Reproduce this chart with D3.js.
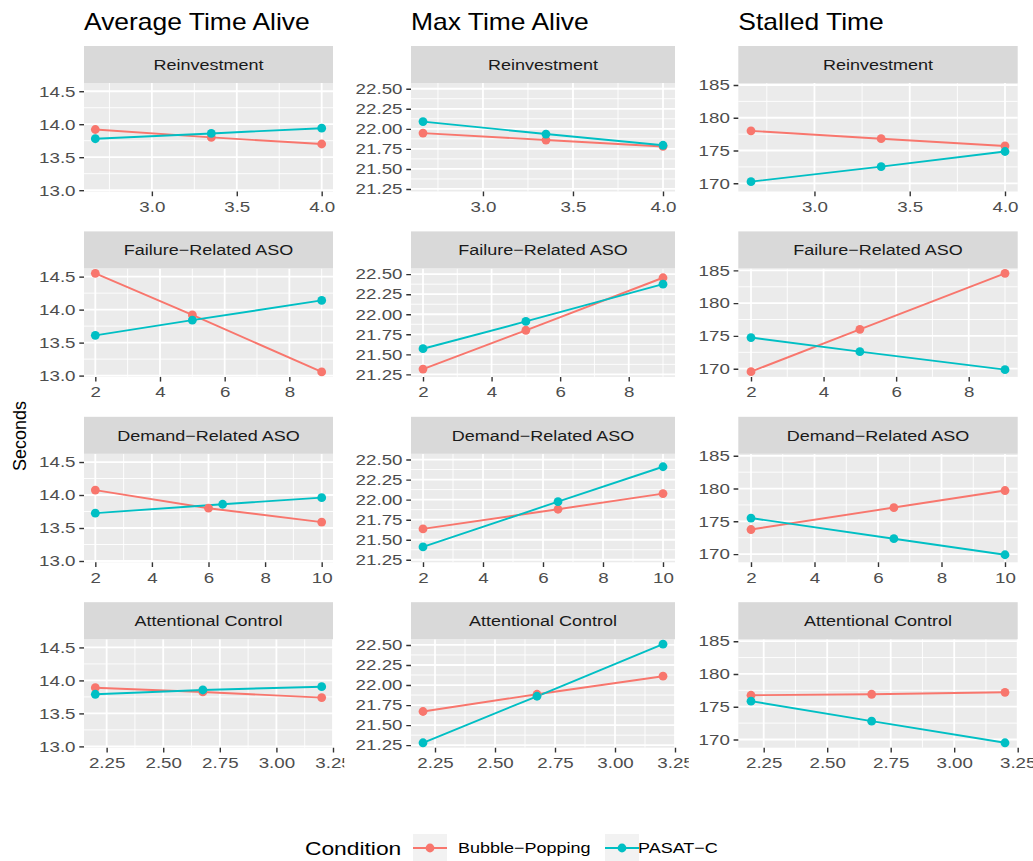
<!DOCTYPE html>
<html>
<head>
<meta charset="utf-8">
<script src="https://cdn.jsdelivr.net/npm/d3@7"></script>
<style>
  body { margin: 0; background: #fff; }
  svg { font-family: "Liberation Sans", Arial, sans-serif; }
</style>
</head>
<body>
<div id="chart"></div>
<script>
// condition names + colours
const conditions = ["Bubble\u2212Popping", "PASAT\u2212C"];
const condColors = ["#F8766D", "#00BFC4"];

const outcomes = ["Average Time Alive", "Max Time Alive", "Stalled Time"];
const moderators = ["Reinvestment", "Failure\u2212Related ASO", "Demand\u2212Related ASO", "Attentional Control"];

// moderator levels (x) for each facet row
const xReinvestment = [2.667, 3.35, 4.0];
const xFailure = [2, 5, 9];
const xDemand = [2, 6.5, 10];
const xDemandBubbleAvg = [2, 6, 10];
const xAttention = [2.2, 2.675, 3.2];

// values: one row per moderator, three levels each
const avgBubble = [[13.92, 13.80, 13.70], [14.55, 13.92, 13.055], [14.075, 13.80, 13.59], [13.89, 13.825, 13.74]];
const avgPasat  = [[13.78, 13.86, 13.94], [13.61, 13.84, 14.14], [13.725, 13.86, 13.96], [13.79, 13.855, 13.905]];
const maxBubble = [[21.947, 21.86, 21.78], [21.316, 21.80, 22.455], [21.635, 21.88, 22.075], [21.67, 21.885, 22.11]];
const maxPasat  = [[22.09, 21.935, 21.795], [21.57, 21.91, 22.375], [21.41, 21.975, 22.41], [21.28, 21.86, 22.51]];
const stallBubble = [[178.0, 176.8, 175.7], [169.55, 176.0, 184.55], [173.75, 177.1, 179.7], [176.75, 176.9, 177.2]];
const stallPasat  = [[170.25, 172.55, 174.85], [174.75, 172.6, 169.85], [175.5, 172.35, 169.9], [175.85, 172.8, 169.5]];

// tick values and labels
const yTicks = [[13.0, 13.5, 14.0, 14.5], [21.25, 21.5, 21.75, 22.0, 22.25, 22.5], [170, 175, 180, 185]];
const yLabels = [["13.0", "13.5", "14.0", "14.5"], ["21.25", "21.50", "21.75", "22.00", "22.25", "22.50"], ["170", "175", "180", "185"]];
const xTicks = [[3.0, 3.5, 4.0], [2, 4, 6, 8], [2, 4, 6, 8, 10], [2.25, 2.5, 2.75, 3.0, 3.25]];
const xLabels = [["3.0", "3.5", "4.0"], ["2", "4", "6", "8"], ["2", "4", "6", "8", "10"], ["2.25", "2.50", "2.75", "3.00", "3.25"]];

// build x per panel/series
function xFor(col, row, cond) {
    if (row === 0) return xReinvestment;
    if (row === 1) return xFailure;
    if (row === 2) return (col === 0 && cond === 0) ? xDemandBubbleAvg : xDemand;
    return xAttention;
}
const values = [[avgBubble, avgPasat], [maxBubble, maxPasat], [stallBubble, stallPasat]];

const W = 1033, H = 861;
const colLeft = [84, 411, 738.3];
const colRight = [333, 675, 1017.7];
const colClip = [[0, 344.3], [344.3, 688.7], [688.7, 1033]];
const stripH = 37, panelH = 108.5, rowStep = 185.4, firstStrip = 46;
// the reference glyphs are wider than tall
const stretch = 1.2, tickStretch = 1.25;

function expand(ext) {
    const d = (ext[1] - ext[0]) * 0.05;
    return [ext[0] - d, ext[1] + d];
}
function minorBreaks(major, dom) {
    const bd = major[1] - major[0];
    let b = major.slice();
    if (dom[0] < b[0]) b.unshift(b[0] - bd);
    if (dom[1] > b[b.length - 1]) b.push(b[b.length - 1] + bd);
    const out = [];
    for (let i = 0; i < b.length - 1; i++) out.push((b[i] + b[i + 1]) / 2);
    return out.filter(v => v >= dom[0] && v <= dom[1]);
}
function addText(parent, x, y, sx) {
    return parent.append("text")
        .attr("transform", "translate(" + x + "," + y + ") scale(" + sx + ",1)");
}

const svg = d3.select("#chart").append("svg")
    .attr("width", W).attr("height", H);

const defs = svg.append("defs");

outcomes.forEach(function (title, c) {
    defs.append("clipPath").attr("id", "clip" + c)
        .append("rect")
        .attr("x", colClip[c][0]).attr("y", 0)
        .attr("width", colClip[c][1] - colClip[c][0]).attr("height", H);

    const g = svg.append("g").attr("clip-path", "url(#clip" + c + ")");

    // shared y across the column
    const allY = values[c][0].flat().concat(values[c][1].flat());
    const yDom = expand(d3.extent(allY));

    addText(g, colLeft[c], 30, 1.15)
        .attr("font-size", 23).attr("fill", "#000")
        .text(title);

    moderators.forEach(function (mod, r) {
        const stripTop = firstStrip + r * rowStep;
        const top = stripTop + stripH;
        const bottom = top + panelH;

        const allX = xFor(c, r, 0).concat(xFor(c, r, 1));
        const xDom = expand(d3.extent(allX));
        const x = d3.scaleLinear().domain(xDom).range([colLeft[c], colRight[c]]);
        const y = d3.scaleLinear().domain(yDom).range([bottom, top]);

        // panel
        g.append("rect")
            .attr("x", colLeft[c]).attr("y", top)
            .attr("width", colRight[c] - colLeft[c]).attr("height", panelH)
            .attr("fill", "#EBEBEB");

        const grid = g.append("g").attr("stroke", "#fff").attr("fill", "none");
        minorBreaks(xTicks[r], xDom).forEach(v => {
            grid.append("line").attr("x1", x(v)).attr("x2", x(v)).attr("y1", top).attr("y2", bottom).attr("stroke-width", 0.9);
        });
        minorBreaks(yTicks[c], yDom).forEach(v => {
            grid.append("line").attr("y1", y(v)).attr("y2", y(v)).attr("x1", colLeft[c]).attr("x2", colRight[c]).attr("stroke-width", 0.9);
        });
        xTicks[r].filter(v => v >= xDom[0] && v <= xDom[1]).forEach(v => {
            grid.append("line").attr("x1", x(v)).attr("x2", x(v)).attr("y1", top).attr("y2", bottom).attr("stroke-width", 1.8);
        });
        yTicks[c].filter(v => v >= yDom[0] && v <= yDom[1]).forEach(v => {
            grid.append("line").attr("y1", y(v)).attr("y2", y(v)).attr("x1", colLeft[c]).attr("x2", colRight[c]).attr("stroke-width", 1.8);
        });

        // strip
        g.append("rect")
            .attr("x", colLeft[c]).attr("y", stripTop)
            .attr("width", colRight[c] - colLeft[c]).attr("height", stripH)
            .attr("fill", "#D9D9D9");
        addText(g, (colLeft[c] + colRight[c]) / 2, stripTop + stripH / 2, stretch)
            .attr("dy", "0.35em").attr("text-anchor", "middle")
            .attr("font-size", 15).attr("fill", "#1A1A1A")
            .text(mod);

        // lines then points
        const series = [0, 1].map(k => xFor(c, r, k).map((xv, i) => ({x: xv, y: values[c][k][r][i], k: k})));
        const line = d3.line().x(d => x(d.x)).y(d => y(d.y));
        series.forEach(s => {
            g.append("path").datum(s)
                .attr("d", line).attr("fill", "none")
                .attr("stroke", condColors[s[0].k]).attr("stroke-width", 1.9);
        });
        series.forEach(s => {
            g.selectAll(null).data(s).enter().append("circle")
                .attr("cx", d => x(d.x)).attr("cy", d => y(d.y)).attr("r", 4.4)
                .attr("fill", d => condColors[d.k]);
        });

        // axes
        const ax = g.append("g").attr("transform", "translate(0," + bottom + ")")
            .call(d3.axisBottom(x).tickValues(xTicks[r])
                .tickFormat(d => xLabels[r][xTicks[r].indexOf(d)])
                .tickSize(4.7).tickPadding(5));
        const ay = g.append("g").attr("transform", "translate(" + colLeft[c] + ",0)")
            .call(d3.axisLeft(y).tickValues(yTicks[c])
                .tickFormat(d => yLabels[c][yTicks[c].indexOf(d)])
                .tickSize(4.7).tickPadding(3.8));
        [ax, ay].forEach(a => {
            a.select(".domain").remove();
            a.attr("font-family", null).attr("font-size", null);
            a.selectAll("line").attr("stroke", "#333").attr("stroke-width", 1.4);
            a.selectAll("text").attr("fill", "#4D4D4D").attr("font-size", 15)
                .attr("transform", "scale(" + tickStretch + ",1)");
        });
        ay.selectAll("text").attr("x", -8.5 / tickStretch);
    });
});

// y axis title
svg.append("text")
    .attr("transform", "translate(26,436) rotate(-90)")
    .attr("text-anchor", "middle")
    .attr("font-size", 18).attr("fill", "#000")
    .text("Seconds");

// legend
const legend = svg.append("g");
addText(legend, 305, 854.5, stretch)
    .attr("font-size", 19).attr("fill", "#000").text("Condition");
const keyX = [430, 622], labelX = [458, 638];
conditions.forEach(function (name, k) {
    legend.append("rect")
        .attr("x", keyX[k] - 17).attr("y", 848 - 14)
        .attr("width", 34).attr("height", 28).attr("fill", "#F2F2F2");
    legend.append("line")
        .attr("x1", keyX[k] - 17).attr("x2", keyX[k] + 17)
        .attr("y1", 848).attr("y2", 848)
        .attr("stroke", condColors[k]).attr("stroke-width", 1.9);
    legend.append("circle").attr("cx", keyX[k]).attr("cy", 848).attr("r", 4.4)
        .attr("fill", condColors[k]);
    addText(legend, labelX[k], 848, stretch).attr("dy", "0.35em")
        .attr("font-size", 15).attr("fill", "#000").text(name);
});
</script>
</body>
</html>
